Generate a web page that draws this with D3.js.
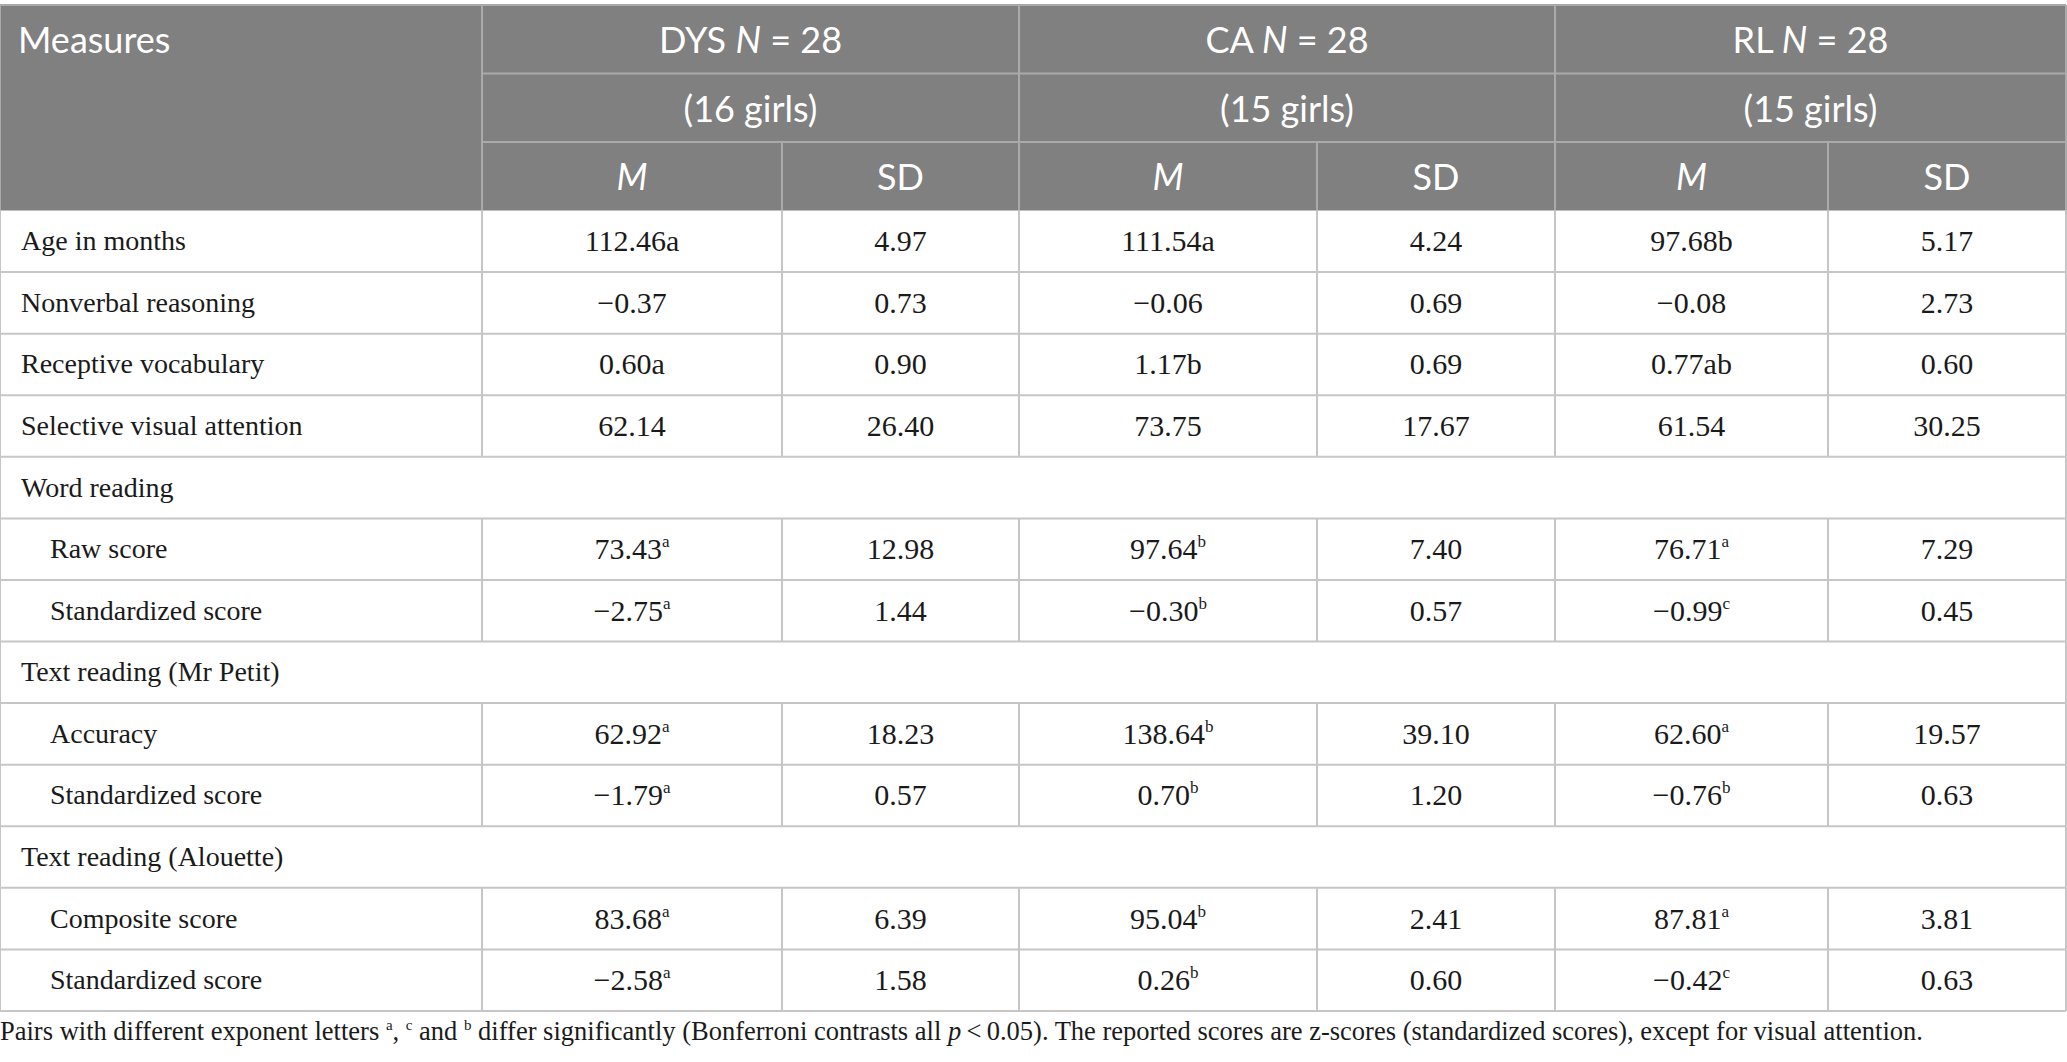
<!DOCTYPE html>
<html>
<head>
<meta charset="utf-8">
<script src="https://cdn.jsdelivr.net/npm/d3@7"></script>
<style>
  body { margin: 0; background: #fff; }
</style>
</head>
<body>
<div id="wrapper"></div>
<script>
// table contents
const groups = ["DYS", "CA", "RL"];
const groupN = ["28", "28", "28"];
const groupGirls = ["(16 girls)", "(15 girls)", "(15 girls)"];

const measures = ["Age in months", "Nonverbal reasoning", "Receptive vocabulary",
  "Selective visual attention", "Word reading", "Raw score", "Standardized score",
  "Text reading (Mr Petit)", "Accuracy", "Standardized score",
  "Text reading (Alouette)", "Composite score", "Standardized score"];
const indent = [0, 0, 0, 0, 0, 1, 1, 0, 1, 1, 0, 1, 1];

const dysM = ["112.46a", "\u22120.37", "0.60a", "62.14", null, "73.43", "\u22122.75", null, "62.92", "\u22121.79", null, "83.68", "\u22122.58"];
const dysSup = ["", "", "", "", "", "a", "a", "", "a", "a", "", "a", "a"];
const dysSD = ["4.97", "0.73", "0.90", "26.40", null, "12.98", "1.44", null, "18.23", "0.57", null, "6.39", "1.58"];

const caM = ["111.54a", "\u22120.06", "1.17b", "73.75", null, "97.64", "\u22120.30", null, "138.64", "0.70", null, "95.04", "0.26"];
const caSup = ["", "", "", "", "", "b", "b", "", "b", "b", "", "b", "b"];
const caSD = ["4.24", "0.69", "0.69", "17.67", null, "7.40", "0.57", null, "39.10", "1.20", null, "2.41", "0.60"];

const rlM = ["97.68b", "\u22120.08", "0.77ab", "61.54", null, "76.71", "\u22120.99", null, "62.60", "\u22120.76", null, "87.81", "\u22120.42"];
const rlSup = ["", "", "", "", "", "a", "c", "", "a", "b", "", "a", "c"];
const rlSD = ["5.17", "2.73", "0.60", "30.25", null, "7.29", "0.45", null, "19.57", "0.63", null, "3.81", "0.63"];

const createTable = () => {
  const width = 2067;
  const height = 1062;

  // column edges (Measures, then M/SD per group)
  const colEdges = [0, 482, 782, 1019, 1317, 1555, 1828, 2066];
  const headTop = 5;
  const headRow = 68.5;
  const bodyTop = headTop + headRow * 3;
  const bodyBottom = 1011;

  const headFont = "Lato, 'Open Sans', sans-serif";
  const bodyFont = "'Liberation Serif', 'Times New Roman', serif";
  const lineBody = "#c6c6c6";
  const lineHead = "#a9aaa9";
  const headFill = "#7f807f";
  const ink = "#1a1a1a";

  const svg = d3.select("#wrapper")
    .append("svg")
    .attr("width", width)
    .attr("height", height)
    .style("display", "block");

  const rowScale = d3.scaleBand()
    .domain(d3.range(measures.length))
    .range([bodyTop, bodyBottom]);

  // header background
  svg.append("rect")
    .attr("x", colEdges[0])
    .attr("y", headTop)
    .attr("width", colEdges[7] - colEdges[0])
    .attr("height", headRow * 3)
    .attr("fill", headFill);

  const head = svg.append("g");

  // header lines
  const hl = (x1, y1, x2, y2, c) => head.append("line")
    .attr("x1", x1).attr("y1", y1).attr("x2", x2).attr("y2", y2)
    .attr("stroke", c).attr("stroke-width", 2);

  hl(colEdges[0], headTop, colEdges[7], headTop, lineHead);
  [1, 3, 5, 7].forEach((i) => hl(colEdges[i], headTop, colEdges[i], bodyTop, lineHead));
  [2, 4, 6].forEach((i) => hl(colEdges[i], headTop + headRow * 2, colEdges[i], bodyTop, lineHead));
  hl(colEdges[0], headTop, colEdges[0], bodyTop, lineHead);
  hl(colEdges[1], headTop + headRow, colEdges[7], headTop + headRow, lineHead);
  hl(colEdges[1], headTop + headRow * 2, colEdges[7], headTop + headRow * 2, lineHead);

  const headText = (x, y, anchor) => head.append("text")
    .attr("x", x).attr("y", y)
    .attr("text-anchor", anchor)
    .attr("dominant-baseline", "central")
    .attr("fill", "#fff")
    .attr("font-family", headFont)
    .attr("font-size", 36);

  headText(18, headTop + headRow / 2, "start").text("Measures");

  groups.forEach((g, i) => {
    const cx = (colEdges[1 + i * 2] + colEdges[3 + i * 2]) / 2;
    const t = headText(cx, headTop + headRow / 2, "middle");
    t.append("tspan").text(g + " ");
    t.append("tspan").attr("font-style", "italic").text("N");
    t.append("tspan").text(" = " + groupN[i]);
    headText(cx, headTop + headRow * 1.5, "middle").text(groupGirls[i]);
    headText((colEdges[1 + i * 2] + colEdges[2 + i * 2]) / 2, headTop + headRow * 2.5, "middle")
      .attr("font-style", "italic").text("M");
    headText((colEdges[2 + i * 2] + colEdges[3 + i * 2]) / 2, headTop + headRow * 2.5, "middle")
      .text("SD");
  });

  // body
  const body = svg.append("g");
  const bl = (x1, y1, x2, y2) => body.append("line")
    .attr("x1", x1).attr("y1", y1).attr("x2", x2).attr("y2", y2)
    .attr("stroke", lineBody).attr("stroke-width", 2);

  const cols = [[dysM, dysSup], [dysSD, null], [caM, caSup], [caSD, null], [rlM, rlSup], [rlSD, null]];

  measures.forEach((m, r) => {
    const y0 = rowScale(r);
    const y1 = y0 + rowScale.bandwidth();
    const cy = y0 + rowScale.bandwidth() / 2;
    bl(colEdges[0], y1, colEdges[7], y1);
    bl(colEdges[0], y0, colEdges[0], y1);
    bl(colEdges[7], y0, colEdges[7], y1);

    body.append("text")
      .attr("x", indent[r] ? 50 : 21)
      .attr("y", cy + 9)
      .attr("font-family", bodyFont)
      .attr("font-size", 28)
      .attr("fill", ink)
      .text(m);

    if (dysM[r] === null) return;

    d3.range(1, 7).forEach((c) => bl(colEdges[c], y0, colEdges[c], y1));

    cols.forEach(([vals, sups], c) => {
      const t = body.append("text")
        .attr("x", (colEdges[c + 1] + colEdges[c + 2]) / 2)
        .attr("y", cy + 10)
        .attr("text-anchor", "middle")
        .attr("font-family", bodyFont)
        .attr("font-size", 30)
        .attr("fill", ink);
      t.append("tspan").text(vals[r]);
      if (sups && sups[r]) {
        t.append("tspan")
          .attr("font-size", 17)
          .attr("dy", -12)
          .text(sups[r]);
      }
    });
  });

  // footnote
  const note = svg.append("text")
    .attr("x", 0)
    .attr("y", 1040)
    .attr("font-family", bodyFont)
    .attr("font-size", 26.5)
    .attr("fill", ink);
  const sup = (s) => note.append("tspan").attr("font-size", 15).attr("dy", -10).text(s);
  const norm = (s) => note.append("tspan").attr("dy", 10).text(s);
  note.append("tspan").text("Pairs with different exponent letters ");
  sup("a");
  norm(", ");
  sup("c");
  norm(" and ");
  sup("b");
  norm(" differ significantly (Bonferroni contrasts all ");
  note.append("tspan").attr("font-style", "italic").text("p");
  note.append("tspan").text("\u2009<\u20090.05). The reported scores are z-scores (standardized scores), except for visual attention.");
};

createTable();
</script>
</body>
</html>
